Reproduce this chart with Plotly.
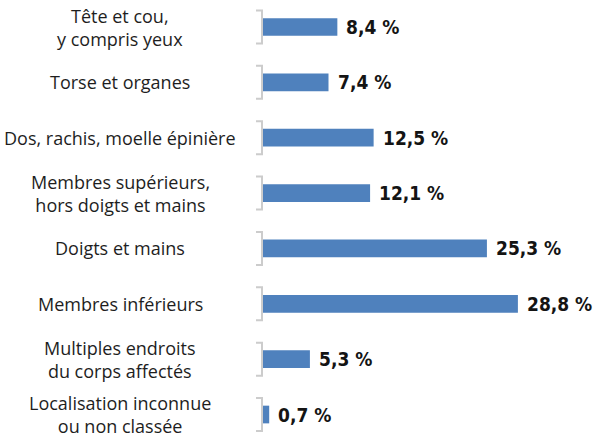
import plotly.graph_objects as go

categories = [
    "Tête et cou,<br>y compris yeux",
    "Torse et organes",
    "Dos, rachis, moelle épinière",
    "Membres supérieurs,<br>hors doigts et mains",
    "Doigts et mains",
    "Membres inférieurs",
    "Multiples endroits<br>du corps affectés",
    "Localisation inconnue<br>ou non classée",
]
values = [8.4, 7.4, 12.5, 12.1, 25.3, 28.8, 5.3, 0.7]
value_labels = ["8,4 %", "7,4 %", "12,5 %", "12,1 %", "25,3 %", "28,8 %", "5,3 %", "0,7 %"]

BAR_COLOR = "#4f81bd"
idx = list(range(len(categories)))

fig = go.Figure(go.Bar(
    x=values, y=idx, orientation="h",
    marker=dict(color=BAR_COLOR, line=dict(width=0)),
    width=0.32, hoverinfo="skip",
))

annotations = []
shapes = []
for i, (cat, v, lab) in enumerate(zip(categories, values, value_labels)):
    annotations.append(dict(
        x=0, y=i, xref="x", yref="y", text=cat, showarrow=False,
        xanchor="center", yanchor="middle", align="center", xshift=-143,
        font=dict(family="Open Sans", size=18, color="#1e1e1e"),
    ))
    annotations.append(dict(
        x=v, y=i, xref="x", yref="y", text=lab, showarrow=False,
        xanchor="left", yanchor="middle", xshift=7,
        font=dict(family="DejaVu Sans Condensed, DejaVu Sans", size=19,
                  color="#141414", weight="bold"),
    ))
    shapes.append(dict(
        type="path", xref="paper", yref="y", xsizemode="pixel", ysizemode="pixel",
        xanchor=0, yanchor=i,
        path="M -7 -16.5 L -1 -16.5 L -1 16.5 L -7 16.5",
        line=dict(color="#cccccc", width=2), layer="above",
    ))

fig.update_layout(
    width=598, height=434,
    margin=dict(l=263, r=0, t=0, b=0),
    paper_bgcolor="white", plot_bgcolor="white",
    showlegend=False,
    xaxis=dict(range=[0, 37.85], visible=False, fixedrange=True),
    yaxis=dict(range=[7.352, -0.488], visible=False, fixedrange=True),
    annotations=annotations, shapes=shapes,
)

fig.write_html("out.html", config={"displayModeBar": False},
               post_script="document.body.style.margin='0';document.body.style.overflow='hidden';")
